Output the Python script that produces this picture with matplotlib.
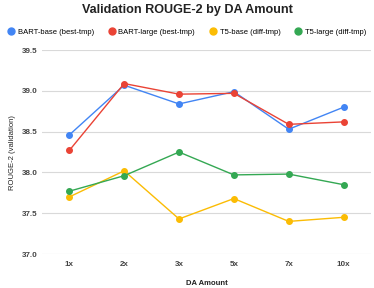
import matplotlib
matplotlib.use("Agg")
import matplotlib.pyplot as plt
from matplotlib.lines import Line2D

plt.rcParams['font.family'] = ['Liberation Sans', 'DejaVu Sans']

categories = ["1x", "2x", "3x", "5x", "7x", "10x"]
bart_base = [38.46, 39.07, 38.84, 38.99, 38.53, 38.80]
bart_large = [38.27, 39.09, 38.96, 38.97, 38.59, 38.62]
t5_base = [37.70, 38.02, 37.43, 37.68, 37.40, 37.45]
t5_large = [37.77, 37.96, 38.25, 37.97, 37.98, 37.85]
series_names = ["BART-base (best-tmp)", "BART-large (best-tmp)", "T5-base (diff-tmp)", "T5-large (diff-tmp)"]
colors = ["#4285F4", "#EA4335", "#FBBC04", "#34A853"]
yticks = [37.0, 37.5, 38.0, 38.5, 39.0, 39.5]

fig = plt.figure(figsize=(3.74, 2.88), dpi=100)
ax = fig.add_axes([0.112, 0.118, 0.88, 0.708])

x = list(range(len(categories)))
for vals, c, name in zip([bart_base, bart_large, t5_base, t5_large], colors, series_names):
    ax.plot(x, vals, color=c, lw=1.0, marker='o', ms=4, label=name, zorder=3)

ax.set_xlim(-0.5, len(categories) - 0.5)
ax.set_ylim(37.0, 39.5)
ax.set_yticks(yticks)
ax.set_yticklabels([f"{v:.1f}" for v in yticks], fontsize=5.8, fontweight='bold', color='#444444')
ax.set_xticks(x)
ax.set_xticklabels(categories, fontsize=5.8, fontweight='bold', color='#444444')
ax.tick_params(axis='y', length=0, pad=3)
ax.tick_params(axis='x', length=0, pad=5)
ax.grid(axis='y', color='#d9d9d9', lw=0.8)
ax.set_axisbelow(True)
for s in ax.spines.values():
    s.set_visible(False)
ax.set_xlabel("DA Amount", fontsize=5.5, fontweight='bold', color='#222222', labelpad=9)
ax.set_ylabel("ROUGE-2 (validation)", fontsize=5.5, color='#222222', labelpad=4)

fig.text(0.5, 0.965, "Validation ROUGE-2 by DA Amount", ha='center', va='center',
         fontsize=9.1, fontweight='bold', color='#222222')

handles = [Line2D([], [], color=c, marker='o', ls='none', ms=5) for c in colors]
fig.legend(handles, series_names, loc='center', bbox_to_anchor=(0.5, 0.888), ncol=4,
           frameon=False, fontsize=5.5, handletextpad=0.5, columnspacing=1.9, handlelength=0.8)

fig.savefig("out.png", dpi=100)
